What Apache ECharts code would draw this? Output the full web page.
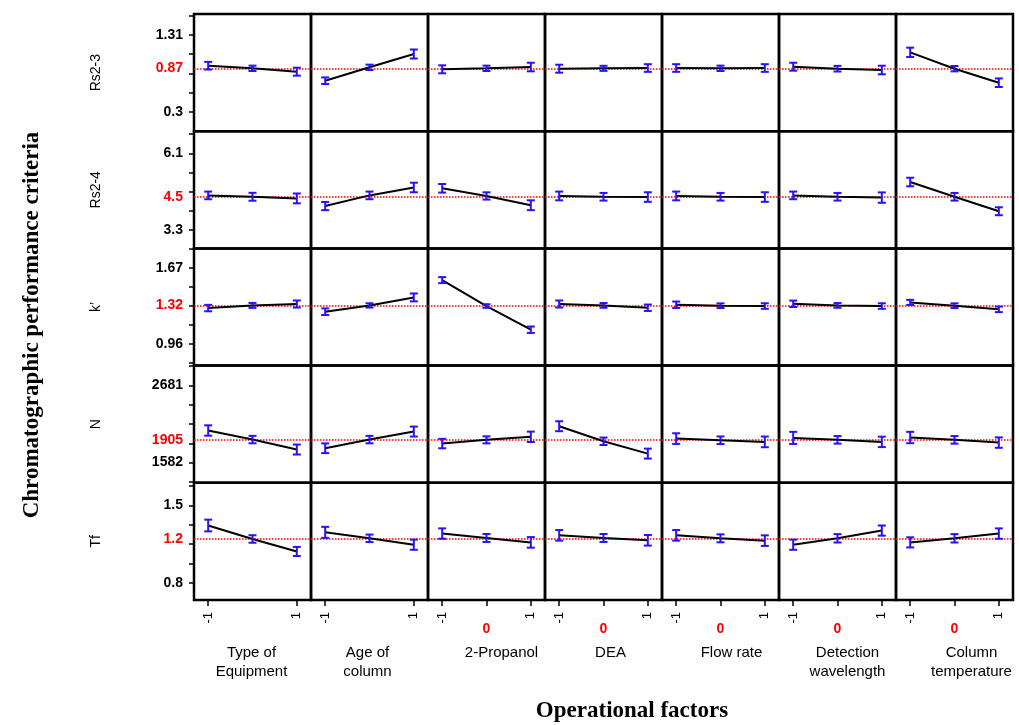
<!DOCTYPE html>
<html>
<head>
<meta charset="utf-8">
<script src="https://cdn.jsdelivr.net/npm/echarts@6/dist/echarts.min.js"></script>
<style>
  html, body { margin: 0; padding: 0; background: #fff; }
  #chart { width: 1019px; height: 725px; }
</style>
</head>
<body>
<div id="chart"></div>
<script>
// Operational factors (columns) and performance criteria (rows)
const factors = ['Type of\nEquipment', 'Age of\ncolumn', '2-Propanol', 'DEA', 'Flow rate', 'Detection\nwavelength', 'Column\ntemperature'];
const threeLevelFactor = [false, false, true, true, true, true, true];
const criteria = ['Rs2-3', 'Rs2-4', 'k\u2019', 'N', 'Tf'];
const levels = [-1, 0, 1];

// Overall mean of each criterion (red reference line)
const overallMeans = [0.87, 4.5, 1.32, 1905, 1.2];
// Labelled y ticks per criterion
const upperTickLabels = [1.31, 6.1, 1.67, 2681, 1.5];
const lowerTickLabels = [0.3, 3.3, 0.96, 1582, 0.8];

// Level means (-1, 0, 1) for each factor, one list per criterion
const rs23Means = [[0.904, 0.870, 0.826], [0.708, 0.883, 1.057], [0.857, 0.870, 0.887], [0.865, 0.870, 0.874], [0.874, 0.870, 0.874], [0.891, 0.865, 0.848], [1.079, 0.865, 0.682]];
const rs24Means = [[4.56, 4.51, 4.45], [4.17, 4.56, 4.85], [4.82, 4.54, 4.20], [4.54, 4.51, 4.50], [4.54, 4.51, 4.50], [4.56, 4.51, 4.48], [5.05, 4.51, 3.98]];
const kMeans = [[1.296, 1.321, 1.334], [1.262, 1.321, 1.396], [1.558, 1.315, 1.093], [1.334, 1.321, 1.299], [1.327, 1.318, 1.315], [1.336, 1.321, 1.315], [1.349, 1.318, 1.284]];
const nMeans = [[2039, 1910, 1768], [1786, 1910, 2024], [1853, 1906, 1949], [2100, 1886, 1710], [1924, 1900, 1877], [1934, 1906, 1877], [1939, 1906, 1867]];
const tfMeans = [[1.319, 1.197, 1.084], [1.257, 1.203, 1.145], [1.246, 1.206, 1.166], [1.230, 1.206, 1.185], [1.230, 1.203, 1.182], [1.145, 1.203, 1.273], [1.166, 1.203, 1.246]];

// Half-widths of the error bars
const rs23Err = [[0.050, 0.035, 0.052], [0.043, 0.035, 0.059], [0.052, 0.035, 0.056], [0.052, 0.033, 0.050], [0.050, 0.035, 0.050], [0.052, 0.037, 0.056], [0.061, 0.035, 0.056]];
const rs24Err = [[0.14, 0.145, 0.18], [0.15, 0.14, 0.175], [0.157, 0.133, 0.18], [0.16, 0.14, 0.175], [0.16, 0.14, 0.175], [0.14, 0.14, 0.19], [0.157, 0.14, 0.145]];
const kErr = [[0.030, 0.023, 0.033], [0.031, 0.020, 0.037], [0.028, 0.017, 0.030], [0.033, 0.022, 0.030], [0.030, 0.022, 0.026], [0.030, 0.022, 0.026], [0.024, 0.022, 0.026]];
const nErr = [[74, 53, 71], [69, 53, 71], [67, 50, 74], [71, 53, 71], [76, 54, 76], [86, 54, 74], [81, 54, 74]];
const tfErr = [[0.053, 0.034, 0.041], [0.050, 0.034, 0.046], [0.047, 0.036, 0.048], [0.048, 0.036, 0.048], [0.048, 0.036, 0.048], [0.046, 0.038, 0.046], [0.046, 0.038, 0.047]];

const allMeans = [rs23Means, rs24Means, kMeans, nMeans, tfMeans];
const allErr = [rs23Err, rs24Err, kErr, nErr, tfErr];

// y-axis extents per criterion
const yMin = [0.048, 2.62, 0.757, 1294, 0.644];
const yMax = [1.58, 6.91, 1.855, 2964, 1.706];

// panel layout
const LEFT = 194, TOP = 14, CELL_W = 117, CELL_H = 117.2;
const NR = criteria.length, NC = factors.length;
const X_MIN = -1.32, X_MAX = 1.32;
const SANS = '"Liberation Sans", Arial, Helvetica, sans-serif';
const SERIF = '"Liberation Serif", "Times New Roman", serif';
const BAR_BLUE = '#2a10ff';

const grids = [], xAxes = [], yAxes = [], series = [];

function errorBar(params, api) {
  const x = api.value(0);
  const lo = api.coord([x, api.value(1)]);
  const hi = api.coord([x, api.value(2)]);
  const cap = 4;
  const st = { stroke: BAR_BLUE, lineWidth: 2 };
  return {
    type: 'group',
    children: [
      { type: 'line', shape: { x1: lo[0], y1: lo[1], x2: hi[0], y2: hi[1] }, style: st },
      { type: 'line', shape: { x1: lo[0] - cap, y1: lo[1], x2: lo[0] + cap, y2: lo[1] }, style: st },
      { type: 'line', shape: { x1: hi[0] - cap, y1: hi[1], x2: hi[0] + cap, y2: hi[1] }, style: st }
    ]
  };
}

for (let r = 0; r < NR; r++) {
  const step = (upperTickLabels[r] - lowerTickLabels[r]) / 4;
  const ticks = [];
  for (let k = -2; k <= 6; k++) {
    const v = upperTickLabels[r] - k * step;
    if (v > yMin[r] && v < yMax[r]) ticks.push(v);
  }
  for (let c = 0; c < NC; c++) {
    const g = r * NC + c;
    grids.push({
      left: LEFT + c * CELL_W, top: TOP + r * CELL_H, width: CELL_W, height: CELL_H,
      show: true, borderColor: '#000', borderWidth: 2.5, backgroundColor: 'transparent'
    });
    const bottom = r === NR - 1;
    xAxes.push({
      gridIndex: g, type: 'value', min: X_MIN, max: X_MAX, position: 'bottom',
      axisLine: { show: false, onZero: false }, splitLine: { show: false },
      axisTick: bottom ? {
        show: true, inside: false, length: 6,
        lineStyle: { color: '#000', width: 1.5 },
        customValues: threeLevelFactor[c] ? [-1, 0, 1] : [-1, 1]
      } : { show: false },
      axisLabel: bottom ? {
        show: true, customValues: [-1, 1], rotate: 90, margin: 12,
        color: '#000', fontSize: 13, fontFamily: SANS
      } : { show: false }
    });
    const left = c === 0;
    const mean = overallMeans[r];
    yAxes.push({
      gridIndex: g, type: 'value', min: yMin[r], max: yMax[r], position: 'left',
      axisLine: { show: false, onZero: false }, splitLine: { show: false },
      name: left ? criteria[r] : '', nameLocation: 'middle', nameGap: 91,
      nameTextStyle: { color: '#000', fontSize: 14, fontFamily: SANS },
      axisTick: left ? {
        show: true, inside: false, length: 5,
        lineStyle: { color: '#000', width: 1.5 }, customValues: ticks
      } : { show: false },
      axisLabel: left ? {
        show: true, margin: 11,
        customValues: [upperTickLabels[r], mean, lowerTickLabels[r]],
        formatter: v => (v === mean ? '{m|' + v + '}' : String(v)),
        color: '#000', fontSize: 14, fontWeight: 'bold', fontFamily: SANS,
        rich: { m: { color: '#ff0000', fontSize: 14, fontWeight: 'bold', fontFamily: SANS } }
      } : { show: false }
    });
    const means = allMeans[r][c], errs = allErr[r][c];
    series.push({
      type: 'line', xAxisIndex: g, yAxisIndex: g,
      data: levels.map((lv, i) => [lv, means[i]]),
      symbol: 'none', lineStyle: { color: '#000', width: 2 }, z: 3,
      markLine: {
        silent: true, symbol: 'none', label: { show: false },
        lineStyle: { color: '#ff0000', type: 'dotted', width: 1.5 },
        data: [{ yAxis: mean }], z: 2
      }
    });
    series.push({
      type: 'custom', xAxisIndex: g, yAxisIndex: g, renderItem: errorBar, z: 4,
      encode: { x: 0, y: [1, 2] },
      data: levels.map((lv, i) => [lv, means[i] - errs[i], means[i] + errs[i]])
    });
  }
}

// red centre-level labels under the bottom row
for (let c = 0; c < NC; c++) {
  const g = (NR - 1) * NC + c;
  xAxes.push({
    gridIndex: g, type: 'value', min: X_MIN, max: X_MAX, position: 'bottom',
    axisLine: { show: false, onZero: false }, axisTick: { show: false }, splitLine: { show: false },
    axisLabel: threeLevelFactor[c] ? {
      show: true, customValues: [0], margin: 22,
      color: '#ff0000', fontSize: 14, fontWeight: 'bold', fontFamily: SANS
    } : { show: false }
  });
}

// factor names below the panels
const nameShift = [-1, -2, 15, 7, 11, 10, 17];
const graphics = factors.map((f, c) => ({
  type: 'text',
  x: LEFT + c * CELL_W + CELL_W / 2 + nameShift[c], y: 643,
  style: {
    text: f, fill: '#000', font: '15px ' + SANS, lineHeight: 19,
    textAlign: 'center', textVerticalAlign: 'top', align: 'center', verticalAlign: 'top'
  }
}));
graphics.push({
  type: 'text', x: 632, y: 711,
  style: {
    text: 'Operational factors', fill: '#000', font: 'bold 23px ' + SERIF,
    textAlign: 'center', textVerticalAlign: 'middle', align: 'center', verticalAlign: 'middle'
  }
});
graphics.push({
  type: 'text', x: 32, y: 325, rotation: Math.PI / 2,
  style: {
    text: 'Chromatographic performance criteria', fill: '#000', font: 'bold 23px ' + SERIF,
    textAlign: 'center', textVerticalAlign: 'middle', align: 'center', verticalAlign: 'middle'
  }
});

const chart = echarts.init(document.getElementById('chart'), null, { renderer: 'canvas' });
chart.setOption({
  animation: false,
  backgroundColor: '#fff',
  grid: grids,
  xAxis: xAxes,
  yAxis: yAxes,
  series: series,
  graphic: graphics
});
</script>
</body>
</html>
